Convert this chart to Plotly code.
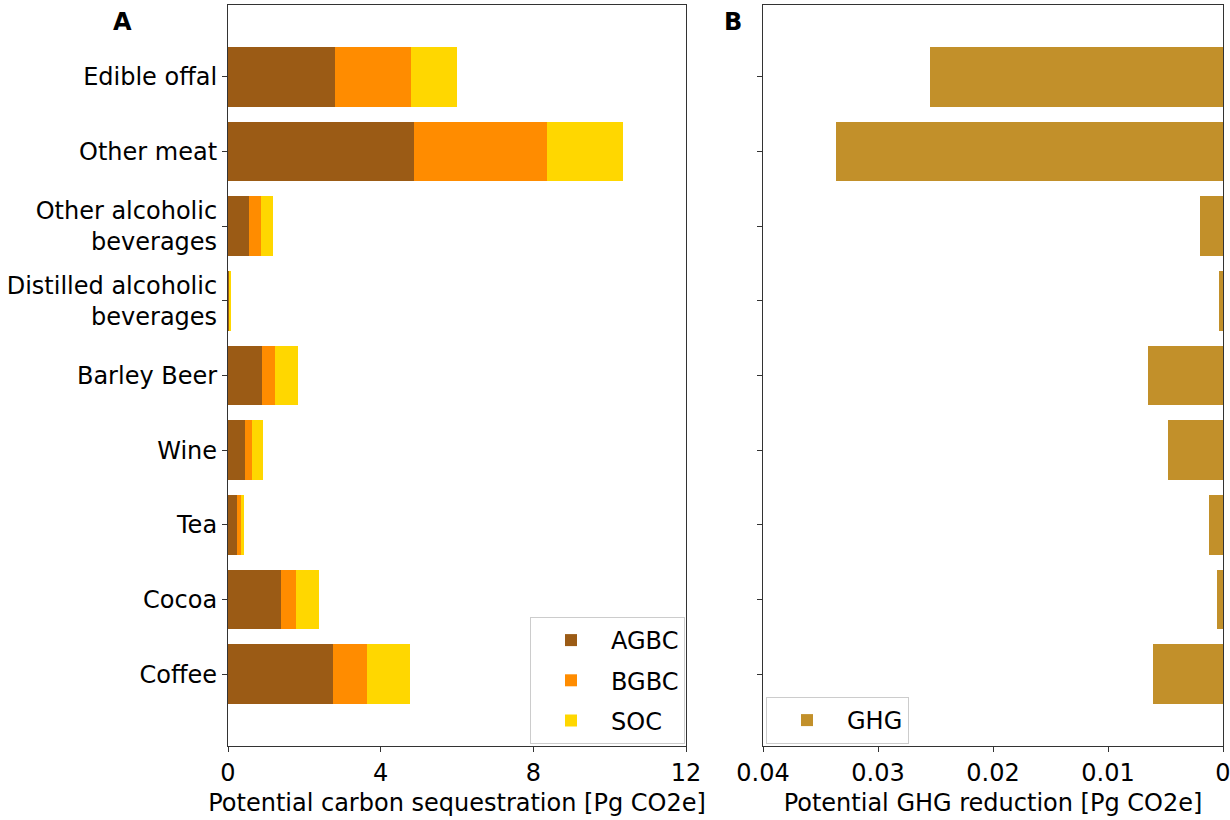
import plotly.graph_objects as go

categories = ["Edible offal", "Other meat", "Other alcoholic<br>beverages",
              "Distilled alcoholic<br>beverages", "Barley Beer", "Wine", "Tea",
              "Cocoa", "Coffee"]
agbc = [2.80, 4.87, 0.55, 0.03, 0.90, 0.445, 0.245, 1.39, 2.75]
bgbc = [1.99, 3.49, 0.31, 0.02, 0.34, 0.175, 0.095, 0.39, 0.89]
soc = [1.21, 1.99, 0.33, 0.04, 0.59, 0.30, 0.07, 0.60, 1.13]
ghg = [0.02545, 0.03368, 0.0020, 0.00035, 0.0065, 0.00476, 0.00119, 0.0005, 0.00606]

x_ticks_a = [0, 4, 8, 12]
x_ticks_b = [0.04, 0.03, 0.02, 0.01, 0]
x_ticklabels_b = ["0.04", "0.03", "0.02", "0.01", "0"]

FONT = "DejaVu Sans"
FS = 24
W, H = 1230, 820


def px(x):
    return min(1.0, max(0.0, x / W))


def py(y):
    return min(1.0, max(0.0, 1 - y / H))


fig = go.Figure()
for name, vals, col in [("AGBC", agbc, "#9B5B15"), ("BGBC", bgbc, "#FF8C00"), ("SOC", soc, "#FFD700")]:
    fig.add_trace(go.Bar(y=categories, x=vals, name=name, orientation="h",
                         marker=dict(color=col, line=dict(width=0)), width=0.8,
                         xaxis="x", yaxis="y", legend="legend", legendgroup=name))
fig.add_trace(go.Bar(y=categories, x=ghg, name="GHG", orientation="h",
                     marker=dict(color="#C2902A", line=dict(width=0)), width=0.8,
                     xaxis="x2", yaxis="y2", legend="legend2", legendgroup="GHG"))

axcommon = dict(showline=True, linecolor="#333", linewidth=1.2, mirror=True,
                ticks="outside", ticklen=5, tickcolor="#333", showgrid=False,
                zeroline=False, automargin=False,
                tickfont=dict(family=FONT, size=FS, color="black"))
ydom = [py(746), py(5)]
fig.update_layout(
    width=W, height=H, margin=dict(l=0, r=0, t=0, b=0),
    plot_bgcolor="white", paper_bgcolor="white", barmode="stack", bargap=0.2,
    font=dict(family=FONT, size=FS, color="black"),
    xaxis=dict(domain=[px(228), px(686)], range=[0, 12], tickvals=x_ticks_a,
               ticklabeloverflow="allow",
               title=dict(text="Potential carbon sequestration [Pg CO2e]", standoff=8,
                          font=dict(family=FONT, size=FS)), anchor="y", **axcommon),
    yaxis=dict(domain=ydom, range=[8.96, -0.96], type="category",
               categoryorder="array", categoryarray=categories, anchor="x", **axcommon),
    xaxis2=dict(domain=[px(763), px(1223)], range=[0.04, 0], tickvals=x_ticks_b,
                ticktext=x_ticklabels_b, ticklabeloverflow="allow",
                title=dict(text="Potential GHG reduction [Pg CO2e]", standoff=8,
                           font=dict(family=FONT, size=FS)), anchor="y2", **axcommon),
    yaxis2=dict(domain=ydom, range=[8.96, -0.96], type="category",
                categoryorder="array", categoryarray=categories, anchor="x2",
                showticklabels=False, **axcommon),
    legend=dict(x=px(685), y=py(744), xanchor="right", yanchor="bottom",
                bordercolor="#cccccc", borderwidth=1, bgcolor="white",
                font=dict(family=FONT, size=FS), itemwidth=70, traceorder="grouped",
                tracegroupgap=6),
    legend2=dict(x=px(766), y=py(744), xanchor="left", yanchor="bottom",
                 bordercolor="#cccccc", borderwidth=1, bgcolor="white",
                 font=dict(family=FONT, size=FS), itemwidth=70),
    annotations=[
        dict(text="<b>A</b>", x=px(122), y=py(22), xref="paper", yref="paper",
             showarrow=False, font=dict(family=FONT, size=FS), xanchor="center", yanchor="middle"),
        dict(text="<b>B</b>", x=px(733), y=py(22), xref="paper", yref="paper",
             showarrow=False, font=dict(family=FONT, size=FS), xanchor="center", yanchor="middle"),
    ],
)
fig.write_html("out.html", config={"displayModeBar": False},
               post_script="document.body.style.margin='0px';")
